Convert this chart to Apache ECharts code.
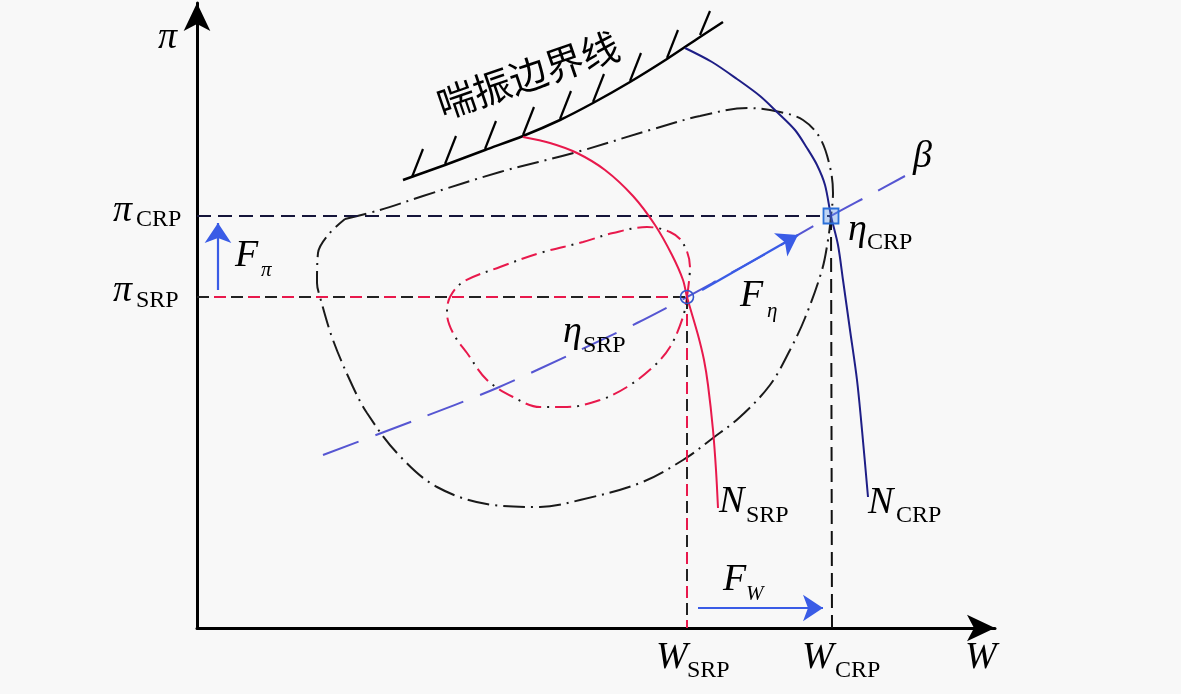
<!DOCTYPE html>
<html>
<head>
<meta charset="utf-8">
<script src="https://cdn.jsdelivr.net/npm/echarts@6/dist/echarts.min.js"></script>
<style>
html,body{margin:0;padding:0;background:#f8f8f8;}
#chart{width:1181px;height:694px;}
</style>
</head>
<body>
<div id="chart"></div>
<script>
// ---- Operating point values (W on x, pi on y) ----
const W_SRP = 490, W_CRP = 634, PI_SRP = 331, PI_CRP = 412;

// ---- Surge boundary and hatch marks ----
const surgeLine = [[206,448],[248,463],[288,478],[326,492],[363,508],[396,525],[433,546],[470,569],[503,591],[526,606]];
const hatchBase = [[215,451],[248,464],[288,479],[326,493],[363,509],[396,526],[433,547],[470,570],[503,593]];
const hatchTip  = [[226,479],[259,492],[299,507],[337,521],[374,537],[407,554],[444,575],[481,598],[513,617]];

// ---- Speed lines ----
const nCRP = [[488,580],[515,566],[540,549],[563,532],[580,516],[598,498],[610,480],[620,463],[628,443],[634,412],[641,383],[646,348],[653,298],[660,248],[665,198],[671,131]];
const nSRP = [[326,491],[353,485],[380,475],[408,458],[436,432],[458,403],[475,373],[486,348],[490,331],[501,293],[507,268],[511,243],[516,198],[519,158],[521,120]];

// ---- beta line ----
const betaLine = [[126,173],[216,207],[300,240],[383,278],[440,305],[490,331],[523,349],[563,371],[634,412],[671,432],[708,452]];

// ---- Efficiency contours ----
const etaCRP = [[148,409],[183,418],[226,432],[303,456],[380,476],[453,498],[503,512],[551,520],[583,516],[606,508],[623,490],[633,461],[636,435],[634,412],[631,388],[625,358],[608,310],[593,278],[573,243],[543,211],[516,190],[486,168],[443,145],[383,128],[343,121],[296,123],[240,141],[200,175],[170,215],[156,241],[136,288],[123,331],[120,345],[121,375],[131,393],[148,409]];
const etaSRP = [[490,331],[493,361],[486,385],[473,396],[450,401],[416,395],[386,386],[343,375],[303,361],[266,346],[253,331],[250,315],[256,295],[270,275],[290,248],[316,231],[343,221],[370,221],[403,228],[430,241],[456,261],[473,281],[486,311],[490,331]];

// ---- Direction arrows ----
const arrowFpi  = [[21,338],[21,405]];
const arrowFw   = [[501,20],[626,20]];
const arrowFeta = [[505,338],[601,393]];

// ---- Text annotations (anchors in data units) ----
const mainTexts = [
  ['π',[-39,590]], ['π',[-84,417]], ['π',[-84,337]], ['F',[38,372]], ['β',[716,471]],
  ['η',[651,398]], ['F',[543,332]], ['η',[366,296]], ['N',[522,126]], ['N',[671,125]],
  ['F',[526,48]], ['W',[459,-30]], ['W',[605,-30]], ['W',[768,-30]]
];
const subTexts = [
  ['CRP',[-61,408]], ['SRP',[-61,327]], ['CRP',[670,385]], ['SRP',[386,282]],
  ['SRP',[549,112]], ['CRP',[699,112]], ['SRP',[490,-43]], ['CRP',[638,-43]]
];
const italicSubTexts = [['π',[64,358]], ['η',[570,317]], ['W',[549,34]]];
const surgeLabel = ['喘振边界线',[331,553]];

const SERIF = '"Liberation Serif","DejaVu Serif",serif';
const RED = '#e8194c', NAVY = '#1e1e86', BLUE = '#5656d2', ARROW = '#3a5ce6';

function curve(data, color, width, type, extra) {
  return Object.assign({
    type: 'line', data: data, showSymbol: false, symbol: 'none', clip: false,
    lineStyle: { color: color, width: width, type: type || 'solid' },
    silent: true, animation: false, z: 2
  }, extra || {});
}
function textItems(list, size, italic, color) {
  return list.map(t => ({
    value: t[1],
    label: { show: true, formatter: t[0], position: [0,0], align: 'left', verticalAlign: 'middle',
      fontFamily: SERIF, fontSize: size, fontStyle: italic ? 'italic' : 'normal', color: color || '#000' }
  }));
}

const hatch = hatchBase.map((b,i) => ({ coords: [b, hatchTip[i]] }));

const option = {
  backgroundColor: '#f8f8f8',
  animation: false,
  grid: { left: 197, top: 3, right: 186, bottom: 66 },
  xAxis: {
    type: 'value', min: 0, max: 798,
    axisLine: { show: true, symbol: ['none','arrow'], symbolSize: [20,28], lineStyle: { color: '#000', width: 3 } },
    axisTick: { show: false }, axisLabel: { show: false }, splitLine: { show: false }
  },
  yAxis: {
    type: 'value', min: 0, max: 625,
    axisLine: { show: true, symbol: ['none','arrow'], symbolSize: [20,28], lineStyle: { color: '#000', width: 3 } },
    axisTick: { show: false }, axisLabel: { show: false }, splitLine: { show: false }
  },
  series: [
    // outer efficiency contour
    curve(etaCRP, '#1a1a1a', 2, [22,6,2,6], { smooth: 0.35 }),
    // inner efficiency contour (red dashes + black dots)
    curve(etaSRP, RED, 2, [16,14], { smooth: 0.35 }),
    curve(etaSRP, '#1a1a1a', 2, [2,28], { smooth: 0.35, lineStyle: { color: '#1a1a1a', width: 2, type: [2,28], dashOffset: -22 } }),
    // beta line
    curve(betaLine, BLUE, 2, [38,18], { smooth: 0.3 }),
    // reference lines
    curve([[0,PI_CRP],[W_CRP,PI_CRP]], '#15153a', 2, [14,7]),
    curve([[W_CRP,PI_CRP],[W_CRP+1,0]], '#111', 2, [14,7]),
    curve([[0,PI_SRP],[W_SRP,PI_SRP]], '#222', 2, [12,22]),
    curve([[0,PI_SRP],[W_SRP,PI_SRP]], RED, 2, [12,22], { lineStyle: { color: RED, width: 2, type: [12,22], dashOffset: 17 } }),
    curve([[W_SRP,PI_SRP],[W_SRP,0]], '#222', 2, [12,22]),
    curve([[W_SRP,PI_SRP],[W_SRP,0]], RED, 2, [12,22], { lineStyle: { color: RED, width: 2, type: [12,22], dashOffset: 17 } }),
    // surge boundary
    curve(surgeLine, '#000', 2.5, 'solid', { smooth: 0.3 }),
    {
      type: 'lines', coordinateSystem: 'cartesian2d', data: hatch, clip: false, silent: true, animation: false,
      lineStyle: { color: '#000', width: 2.2, opacity: 1 }, symbol: 'none', z: 3
    },
    // speed lines
    curve(nCRP, NAVY, 2, 'solid', { smooth: 0.3 }),
    curve(nSRP, RED, 2, 'solid', { smooth: 0.3 }),
    // arrows
    {
      type: 'lines', coordinateSystem: 'cartesian2d', clip: false, silent: true, animation: false,
      data: [{ coords: arrowFpi }, { coords: arrowFw }, { coords: arrowFeta }],
      symbol: ['none','arrow'], symbolSize: [14,20],
      lineStyle: { color: ARROW, width: 2.2, opacity: 1 }, z: 4
    },
    // operating point markers
    {
      type: 'scatter', data: [[W_SRP, PI_SRP]], symbol: 'circle', symbolSize: 13, clip: false, silent: true, z: 5,
      itemStyle: { color: 'rgba(0,0,0,0)', borderColor: '#3355cc', borderWidth: 1.6, opacity: 1 }
    },
    {
      type: 'scatter', data: [[W_CRP, PI_CRP]], symbol: 'rect', symbolSize: 15, clip: false, silent: true, z: 5,
      itemStyle: { color: 'rgba(90,150,240,0.35)', borderColor: '#2a6fd8', borderWidth: 1.8, opacity: 1 }
    },
    // text
    {
      type: 'scatter', symbolSize: 0, clip: false, silent: true, z: 6,
      itemStyle: { opacity: 1 },
      data: textItems(mainTexts, 38, true)
        .concat(textItems(subTexts, 24, false))
        .concat(textItems(italicSubTexts, 21, true))
        .concat([{ value: surgeLabel[1], label: { show: true, formatter: surgeLabel[0], position: [0,0],
          align: 'center', verticalAlign: 'middle', rotate: 19,
          fontFamily: '"Noto Sans CJK SC",sans-serif', fontSize: 38, color: '#000' } }])
    }
  ]
};

const chart = echarts.init(document.getElementById('chart'), null, { renderer: 'canvas' });
chart.setOption(option);
</script>
</body>
</html>
